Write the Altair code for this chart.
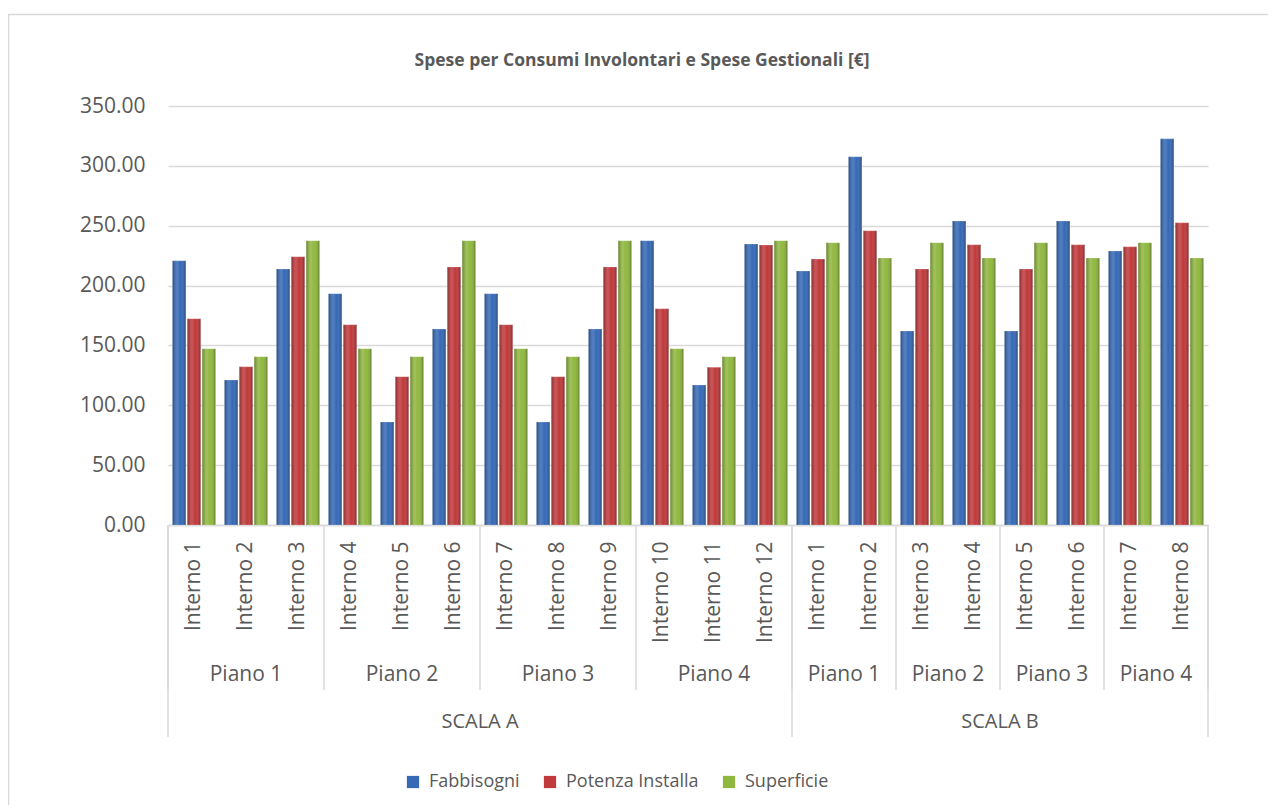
import altair as alt
import pandas as pd

# ---- data ----
scala = ["SCALA A"] * 12 + ["SCALA B"] * 8
piano = (["Piano 1"] * 3 + ["Piano 2"] * 3 + ["Piano 3"] * 3 + ["Piano 4"] * 3
         + ["Piano 1"] * 2 + ["Piano 2"] * 2 + ["Piano 3"] * 2 + ["Piano 4"] * 2)
interno = [f"Interno {i}" for i in range(1, 13)] + [f"Interno {i}" for i in range(1, 9)]

series = ["Fabbisogni", "Potenza Installa", "Superficie"]
fabbisogni = [220.7, 121.1, 213.8, 193.2, 86.0, 163.7, 193.2, 86.0, 163.7, 237.5,
              116.9, 234.7, 212.1, 307.6, 162.0, 253.9, 162.0, 253.9, 228.8, 322.6]
potenza = [172.3, 132.2, 224.1, 167.3, 123.9, 215.5, 167.3, 123.9, 215.5, 180.6,
           131.7, 233.8, 222.1, 245.8, 213.8, 234.1, 213.8, 234.1, 232.4, 252.5]
superficie = [147.3, 140.6, 237.5, 147.3, 140.6, 237.5, 147.3, 140.6, 237.5, 147.3,
              140.6, 237.5, 235.8, 223.0, 235.8, 223.0, 235.8, 223.0, 235.8, 223.0]
colors = ["#3669b6", "#c0393b", "#90b83f"]
title_text = "Spese per Consumi Involontari e Spese Gestionali [€]"

TEXT = "#595959"
GRID = "#d9d9d9"
FONT = "Open Sans"
W, H = 1040, 419

keys = [f"{s}|{p}|{i}" for s, p, i in zip(scala, piano, interno)]
rows = []
for k, vals in zip(series, [fabbisogni, potenza, superficie]):
    for key, v in zip(keys, vals):
        rows.append({"key": key, "serie": k, "valore": v})
df = pd.DataFrame(rows)

# group structure (index positions on the category band)
def groups(labels_a, labels_b):
    out = []
    start = 0
    for idx in range(1, len(labels_a) + 1):
        if idx == len(labels_a) or (labels_a[idx], labels_b[idx]) != (labels_a[start], labels_b[start]):
            out.append({"label": labels_a[start], "start": start, "end": idx, "mid": (start + idx) / 2})
            start = idx
    return out

piano_groups = pd.DataFrame(groups(piano, scala))
scala_groups = pd.DataFrame(groups(scala, scala))
piano_bounds = pd.DataFrame({"pos": sorted(set(piano_groups["start"]).union(piano_groups["end"]))})
scala_bounds = pd.DataFrame({"pos": sorted(set(scala_groups["start"]).union(scala_groups["end"]))})

xq = alt.Scale(domain=[0, len(keys)], nice=False, zero=False)
xband = alt.Scale(paddingInner=0, paddingOuter=0)

x_enc = alt.X("key:N", sort=keys, title=None, scale=xband,
              axis=alt.Axis(labelExpr="split(datum.label, '|')[2]", labelAngle=270,
                            labelAlign="right", labelBaseline="middle", labelPadding=16,
                            ticks=False, domainColor=GRID, domainWidth=1.5,
                            labelFontSize=21, labelColor=TEXT, labelFont=FONT, grid=False))
xo_enc = alt.XOffset("serie:N", sort=series,
                     scale=alt.Scale(paddingInner=0.1, paddingOuter=0.3))
y_enc = alt.Y("valore:Q", title=None,
              scale=alt.Scale(domain=[0, 350], nice=False),
              axis=alt.Axis(values=list(range(0, 351, 50)), format=".2f", domain=False,
                            ticks=False, labelPadding=23, labelFontSize=21,
                            labelColor=TEXT, labelFont=FONT, gridColor=GRID, gridWidth=1.5))

bars = alt.Chart(df).mark_bar().encode(
    x=x_enc, xOffset=xo_enc, y=y_enc,
    color=alt.Color("serie:N", sort=series,
                    scale=alt.Scale(domain=series, range=colors),
                    legend=alt.Legend(title=None, orient="none", direction="horizontal",
                                      legendX=236, legendY=667, symbolType="square",
                                      symbolSize=150, symbolStrokeWidth=0,
                                      labelFontSize=18, labelColor=TEXT, labelFont=FONT,
                                      labelOffset=7, columnPadding=21)),
)

shine = alt.Chart(df).mark_bar(
    fill=alt.Gradient(
        gradient="linear", x1=0, x2=1, y1=0, y2=0,
        stops=[alt.GradientStop(offset=0, color="rgba(0,0,0,0.3)"),
               alt.GradientStop(offset=0.35, color="rgba(255,255,255,0.15)"),
               alt.GradientStop(offset=0.6, color="rgba(255,255,255,0.0)"),
               alt.GradientStop(offset=1, color="rgba(0,0,0,0.32)")]),
    stroke="#ffffff", strokeWidth=0.5, strokeOpacity=0.4,
).encode(
    x=alt.X("key:N", sort=keys, scale=xband, axis=None),
    xOffset=xo_enc,
    y=y_enc,
)

rules_p = alt.Chart(piano_bounds).mark_rule(color=GRID, strokeWidth=1.5).encode(
    x=alt.X("pos:Q", scale=xq, axis=None),
    y=alt.value(H), y2=alt.value(H + 165),
)
rules_s = alt.Chart(scala_bounds).mark_rule(color=GRID, strokeWidth=1.5).encode(
    x=alt.X("pos:Q", scale=xq, axis=None),
    y=alt.value(H), y2=alt.value(H + 212),
)
piano_text = alt.Chart(piano_groups).mark_text(
    fontSize=21, font=FONT, color=TEXT, baseline="middle", align="center").encode(
    x=alt.X("mid:Q", scale=xq, axis=None),
    y=alt.value(H + 150), text="label:N",
)
scala_text = alt.Chart(scala_groups).mark_text(
    fontSize=20, font=FONT, color=TEXT, baseline="middle", align="center").encode(
    x=alt.X("mid:Q", scale=xq, axis=None),
    y=alt.value(H + 197), text="label:N",
)
title = alt.Chart(pd.DataFrame({"t": [title_text]})).mark_text(
    fontSize=17.5, font=FONT, fontWeight="bold", color=TEXT,
    baseline="middle", align="center").encode(
    x=alt.value(474), y=alt.value(-45), text="t:N",
)
border = alt.Chart(pd.DataFrame({"b": [0]})).mark_rect(
    fill="transparent", stroke=GRID, strokeWidth=1.5).encode(
    x=alt.value(-159.5), x2=alt.value(W + 300),
    y=alt.value(-91.5), y2=alt.value(H + 400),
)

chart = alt.layer(border, bars, shine, rules_p, rules_s, piano_text, scala_text, title).resolve_scale(
    x="independent"
).properties(
    width=W, height=H,
    autosize=alt.AutoSizeParams(type="none"),
    padding={"left": 160, "top": 98, "right": 60, "bottom": 280},
).configure(background="#ffffff").configure_view(stroke=None)

chart.save("out.html", embed_options={"renderer": "svg", "actions": False})
